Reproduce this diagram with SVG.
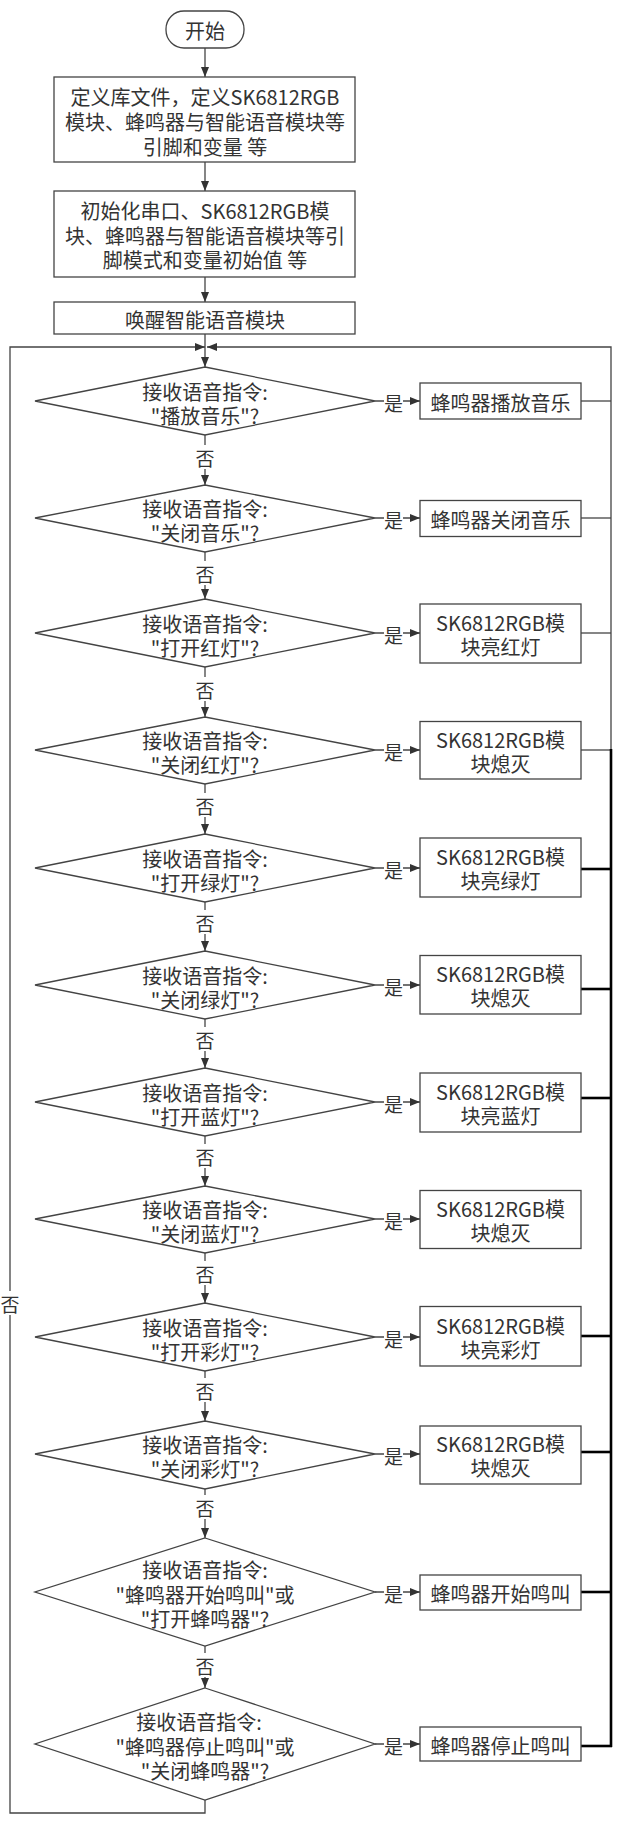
<svg xmlns="http://www.w3.org/2000/svg" width="620" height="1822" viewBox="0 0 620 1822">
<style>
.bg{fill:#ffffff}
.n{fill:#ffffff;stroke:#444;stroke-width:1.3}
.t{font-family:"Noto Sans CJK SC","Noto Sans CJK JP",sans-serif;font-size:20px;fill:#333;text-anchor:middle;dominant-baseline:central}
.lb{font-family:"Noto Sans CJK SC","Noto Sans CJK JP",sans-serif;font-size:19px;fill:#333;text-anchor:middle;dominant-baseline:central}
.c{fill:none;stroke:#444;stroke-width:1.3}
.k{fill:none;stroke:#000;stroke-width:2.6}
</style>
<defs>
<marker id="ar" markerUnits="userSpaceOnUse" markerWidth="10" markerHeight="8" refX="10" refY="4" orient="auto">
<path d="M0,0 L10,4 L0,8 z" fill="#333"/>
</marker>
</defs>
<rect width="620" height="1822" class="bg"/>

<g id="connectors">
<line class="c" x1="205" y1="48" x2="205" y2="77" marker-end="url(#ar)"/>
<line class="c" x1="205" y1="162" x2="205" y2="191" marker-end="url(#ar)"/>
<line class="c" x1="205" y1="277" x2="205" y2="302" marker-end="url(#ar)"/>
<line class="c" x1="205" y1="334" x2="205" y2="367" marker-end="url(#ar)"/>
<!-- no branches -->
<line class="c" x1="205" y1="435" x2="205" y2="485" marker-end="url(#ar)"/>
<line class="c" x1="205" y1="552" x2="205" y2="599" marker-end="url(#ar)"/>
<line class="c" x1="205" y1="667" x2="205" y2="717" marker-end="url(#ar)"/>
<line class="c" x1="205" y1="784" x2="205" y2="834" marker-end="url(#ar)"/>
<line class="c" x1="205" y1="902" x2="205" y2="951" marker-end="url(#ar)"/>
<line class="c" x1="205" y1="1019" x2="205" y2="1068" marker-end="url(#ar)"/>
<line class="c" x1="205" y1="1136" x2="205" y2="1186" marker-end="url(#ar)"/>
<line class="c" x1="205" y1="1253" x2="205" y2="1303" marker-end="url(#ar)"/>
<line class="c" x1="205" y1="1371" x2="205" y2="1421" marker-end="url(#ar)"/>
<line class="c" x1="205" y1="1489" x2="205" y2="1538" marker-end="url(#ar)"/>
<line class="c" x1="205" y1="1646" x2="205" y2="1688" marker-end="url(#ar)"/>
<!-- yes branches -->
<line class="c" x1="375" y1="401" x2="420" y2="401" marker-end="url(#ar)"/>
<line class="c" x1="375" y1="518" x2="420" y2="518" marker-end="url(#ar)"/>
<line class="c" x1="375" y1="633" x2="420" y2="633" marker-end="url(#ar)"/>
<line class="c" x1="375" y1="750" x2="420" y2="750" marker-end="url(#ar)"/>
<line class="c" x1="375" y1="868" x2="420" y2="868" marker-end="url(#ar)"/>
<line class="c" x1="375" y1="985" x2="420" y2="985" marker-end="url(#ar)"/>
<line class="c" x1="375" y1="1102" x2="420" y2="1102" marker-end="url(#ar)"/>
<line class="c" x1="375" y1="1219" x2="420" y2="1219" marker-end="url(#ar)"/>
<line class="c" x1="375" y1="1337" x2="420" y2="1337" marker-end="url(#ar)"/>
<line class="c" x1="375" y1="1454" x2="420" y2="1454" marker-end="url(#ar)"/>
<line class="c" x1="375" y1="1592" x2="420" y2="1592" marker-end="url(#ar)"/>
<line class="c" x1="375" y1="1744" x2="420" y2="1744" marker-end="url(#ar)"/>
<!-- return lines right -->
<line class="c" x1="581" y1="401" x2="611" y2="401"/>
<line class="c" x1="581" y1="518" x2="611" y2="518"/>
<line class="c" x1="581" y1="633" x2="611" y2="633"/>
<line class="c" x1="581" y1="750" x2="611" y2="750"/>
<polyline class="c" points="611,750 611,347 207,347" marker-end="url(#ar)"/>
<line class="k" x1="611" y1="749" x2="611" y2="1747"/>
<line class="k" x1="581" y1="869" x2="612" y2="869"/>
<line class="k" x1="581" y1="989" x2="612" y2="989"/>
<line class="k" x1="581" y1="1098" x2="612" y2="1098"/>
<line class="k" x1="581" y1="1336" x2="612" y2="1336"/>
<line class="k" x1="581" y1="1452" x2="612" y2="1452"/>
<line class="k" x1="581" y1="1592" x2="612" y2="1592"/>
<line class="k" x1="581" y1="1746" x2="612" y2="1746"/>
<!-- loop back left -->
<polyline class="c" points="205,1800 205,1813 10,1813 10,347 205,347" marker-end="url(#ar)"/>
<!-- labels -->
<rect class="bg" x="384" y="389" width="19" height="24"/><text class="lb" x="393.5" y="402">是</text>
<rect class="bg" x="384" y="506" width="19" height="24"/><text class="lb" x="393.5" y="519">是</text>
<rect class="bg" x="384" y="621" width="19" height="24"/><text class="lb" x="393.5" y="634">是</text>
<rect class="bg" x="384" y="738" width="19" height="24"/><text class="lb" x="393.5" y="751">是</text>
<rect class="bg" x="384" y="856" width="19" height="24"/><text class="lb" x="393.5" y="869">是</text>
<rect class="bg" x="384" y="973" width="19" height="24"/><text class="lb" x="393.5" y="986">是</text>
<rect class="bg" x="384" y="1090" width="19" height="24"/><text class="lb" x="393.5" y="1103">是</text>
<rect class="bg" x="384" y="1207" width="19" height="24"/><text class="lb" x="393.5" y="1220">是</text>
<rect class="bg" x="384" y="1325" width="19" height="24"/><text class="lb" x="393.5" y="1338">是</text>
<rect class="bg" x="384" y="1442" width="19" height="24"/><text class="lb" x="393.5" y="1455">是</text>
<rect class="bg" x="384" y="1580" width="19" height="24"/><text class="lb" x="393.5" y="1593">是</text>
<rect class="bg" x="384" y="1732" width="19" height="24"/><text class="lb" x="393.5" y="1745">是</text>

<rect class="bg" x="195" y="445" width="20" height="24"/><text class="lb" x="205" y="457">否</text>
<rect class="bg" x="195" y="561" width="20" height="24"/><text class="lb" x="205" y="573">否</text>
<rect class="bg" x="195" y="677" width="20" height="24"/><text class="lb" x="205" y="689">否</text>
<rect class="bg" x="195" y="793" width="20" height="24"/><text class="lb" x="205" y="805">否</text>
<rect class="bg" x="195" y="910" width="20" height="24"/><text class="lb" x="205" y="922">否</text>
<rect class="bg" x="195" y="1027" width="20" height="24"/><text class="lb" x="205" y="1039">否</text>
<rect class="bg" x="195" y="1144" width="20" height="24"/><text class="lb" x="205" y="1156">否</text>
<rect class="bg" x="195" y="1261" width="20" height="24"/><text class="lb" x="205" y="1273">否</text>
<rect class="bg" x="195" y="1378" width="20" height="24"/><text class="lb" x="205" y="1390">否</text>
<rect class="bg" x="195" y="1495" width="20" height="24"/><text class="lb" x="205" y="1507">否</text>
<rect class="bg" x="195" y="1653" width="20" height="24"/><text class="lb" x="205" y="1665">否</text>
<rect class="bg" x="0" y="1291" width="20" height="24"/><text class="lb" x="10" y="1303">否</text>
</g>

<g id="start"><rect class="n" x="166" y="11" width="78" height="37" rx="18" ry="18"/><text class="t" x="205" y="30">开始</text></g>
<g id="init1"><rect class="n" x="54" y="77" width="301" height="85"/><text class="t" x="205" y="96">定义库文件，定义SK6812RGB</text><text class="t" x="205" y="121">模块、蜂鸣器与智能语音模块等</text><text class="t" x="205" y="146">引脚和变量 等</text></g>
<g id="init2"><rect class="n" x="54" y="191" width="301" height="86"/><text class="t" x="205" y="210">初始化串口、SK6812RGB模</text><text class="t" x="205" y="235">块、蜂鸣器与智能语音模块等引</text><text class="t" x="205" y="259">脚模式和变量初始值 等</text></g>
<g id="wake"><rect class="n" x="54" y="302" width="301" height="32"/><text class="t" x="205" y="319">唤醒智能语音模块</text></g>

<g id="d1"><polygon class="n" points="205,367 375,401 205,435 35,401"/><text class="t" x="205" y="391">接收语音指令:</text><text class="t" x="205" y="415">"播放音乐"?</text></g>
<g id="d2"><polygon class="n" points="205,485 375,518 205,552 35,518"/><text class="t" x="205" y="508">接收语音指令:</text><text class="t" x="205" y="532">"关闭音乐"?</text></g>
<g id="d3"><polygon class="n" points="205,599 375,633 205,667 35,633"/><text class="t" x="205" y="623">接收语音指令:</text><text class="t" x="205" y="647">"打开红灯"?</text></g>
<g id="d4"><polygon class="n" points="205,717 375,750 205,784 35,750"/><text class="t" x="205" y="740">接收语音指令:</text><text class="t" x="205" y="764">"关闭红灯"?</text></g>
<g id="d5"><polygon class="n" points="205,834 375,868 205,902 35,868"/><text class="t" x="205" y="858">接收语音指令:</text><text class="t" x="205" y="882">"打开绿灯"?</text></g>
<g id="d6"><polygon class="n" points="205,951 375,985 205,1019 35,985"/><text class="t" x="205" y="975">接收语音指令:</text><text class="t" x="205" y="999">"关闭绿灯"?</text></g>
<g id="d7"><polygon class="n" points="205,1068 375,1102 205,1136 35,1102"/><text class="t" x="205" y="1092">接收语音指令:</text><text class="t" x="205" y="1116">"打开蓝灯"?</text></g>
<g id="d8"><polygon class="n" points="205,1186 375,1219 205,1253 35,1219"/><text class="t" x="205" y="1209">接收语音指令:</text><text class="t" x="205" y="1233">"关闭蓝灯"?</text></g>
<g id="d9"><polygon class="n" points="205,1303 375,1337 205,1371 35,1337"/><text class="t" x="205" y="1327">接收语音指令:</text><text class="t" x="205" y="1351">"打开彩灯"?</text></g>
<g id="d10"><polygon class="n" points="205,1421 375,1454 205,1489 35,1454"/><text class="t" x="205" y="1444">接收语音指令:</text><text class="t" x="205" y="1468">"关闭彩灯"?</text></g>
<g id="d11"><polygon class="n" points="205,1538 375,1592 205,1646 35,1592"/><text class="t" x="205" y="1569">接收语音指令:</text><text class="t" x="205" y="1594">"蜂鸣器开始鸣叫"或</text><text class="t" x="205" y="1618">"打开蜂鸣器"?</text></g>
<g id="d12"><polygon class="n" points="205,1688 375,1744 205,1800 35,1744"/><text class="t" x="199" y="1721">接收语音指令:</text><text class="t" x="205" y="1746">"蜂鸣器停止鸣叫"或</text><text class="t" x="205" y="1770">"关闭蜂鸣器"?</text></g>

<g id="a1"><rect class="n" x="420" y="383" width="161" height="36"/><text class="t" x="500.5" y="402">蜂鸣器播放音乐</text></g>
<g id="a2"><rect class="n" x="420" y="500.5" width="161" height="36"/><text class="t" x="500.5" y="519">蜂鸣器关闭音乐</text></g>
<g id="a3"><rect class="n" x="420" y="604" width="161" height="59"/><text class="t" x="500.5" y="622">SK6812RGB模</text><text class="t" x="500.5" y="646">块亮红灯</text></g>
<g id="a4"><rect class="n" x="420" y="721.5" width="161" height="57.5"/><text class="t" x="500.5" y="739">SK6812RGB模</text><text class="t" x="500.5" y="763">块熄灭</text></g>
<g id="a5"><rect class="n" x="420" y="838" width="161" height="59"/><text class="t" x="500.5" y="856">SK6812RGB模</text><text class="t" x="500.5" y="880">块亮绿灯</text></g>
<g id="a6"><rect class="n" x="420" y="955.5" width="161" height="58.5"/><text class="t" x="500.5" y="973">SK6812RGB模</text><text class="t" x="500.5" y="997">块熄灭</text></g>
<g id="a7"><rect class="n" x="420" y="1073" width="161" height="59"/><text class="t" x="500.5" y="1091">SK6812RGB模</text><text class="t" x="500.5" y="1115">块亮蓝灯</text></g>
<g id="a8"><rect class="n" x="420" y="1190.5" width="161" height="58"/><text class="t" x="500.5" y="1208">SK6812RGB模</text><text class="t" x="500.5" y="1232">块熄灭</text></g>
<g id="a9"><rect class="n" x="420" y="1306.5" width="161" height="59.5"/><text class="t" x="500.5" y="1325">SK6812RGB模</text><text class="t" x="500.5" y="1349">块亮彩灯</text></g>
<g id="a10"><rect class="n" x="420" y="1426" width="161" height="58"/><text class="t" x="500.5" y="1443">SK6812RGB模</text><text class="t" x="500.5" y="1467">块熄灭</text></g>
<g id="a11"><rect class="n" x="420" y="1575" width="161" height="35"/><text class="t" x="500.5" y="1593">蜂鸣器开始鸣叫</text></g>
<g id="a12"><rect class="n" x="420" y="1727" width="161" height="34"/><text class="t" x="500.5" y="1745">蜂鸣器停止鸣叫</text></g>
</svg>
